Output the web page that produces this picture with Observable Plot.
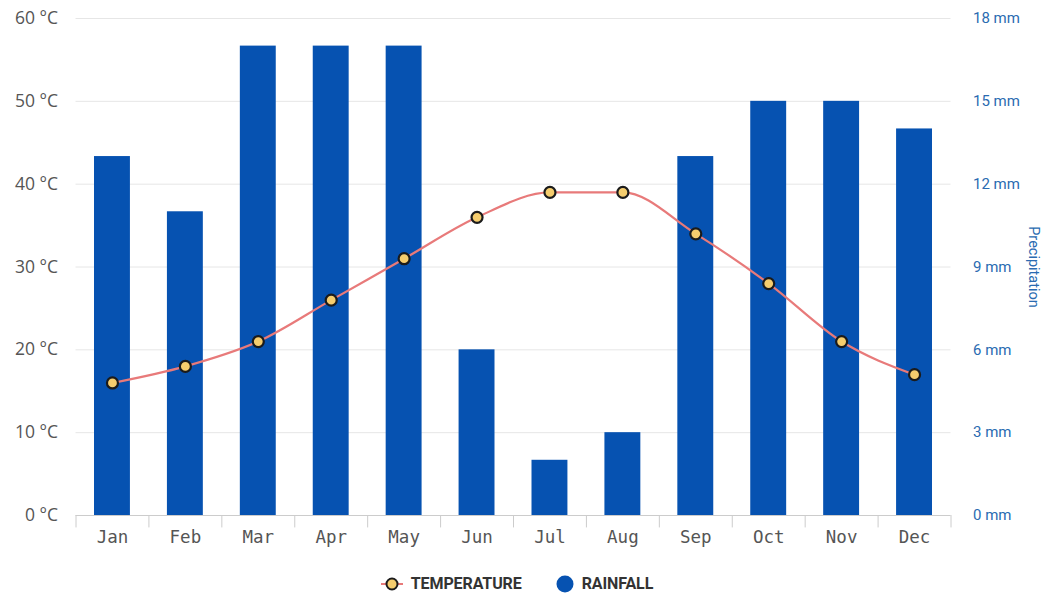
<!DOCTYPE html>
<html>
<head>
<meta charset="utf-8">
<script src="https://cdn.jsdelivr.net/npm/d3@7"></script>
<script src="https://cdn.jsdelivr.net/npm/@observablehq/plot@0.6"></script>
<style>
  html, body { margin: 0; padding: 0; background: #fff; }
  #chart { width: 1044px; position: relative; }
  #legend { display: flex; justify-content: center; align-items: center; gap: 34px;
    font-family: Roboto, "Liberation Sans", sans-serif; font-weight: 700; font-size: 16px; color: #333;
    margin-top: 8px; width: 1034px; letter-spacing: -0.1px; }
  .item { display: flex; align-items: center; gap: 8px; }
</style>
</head>
<body>
<div id="chart"></div>
<div id="legend">
  <div class="item"><svg width="22" height="16"><line x1="0" y1="8" x2="22" y2="8" stroke="#e87a7a" stroke-width="2"/><circle cx="11" cy="8" r="5.5" fill="#f5cd6e" stroke="#1b1b1b" stroke-width="2"/></svg><span>TEMPERATURE</span></div>
  <div class="item"><svg width="18" height="18"><circle cx="9" cy="9" r="8.5" fill="#0652b1"/></svg><span>RAINFALL</span></div>
</div>
<script>
const months = ["Jan","Feb","Mar","Apr","May","Jun","Jul","Aug","Sep","Oct","Nov","Dec"];
const temperature = [16, 18, 21, 26, 31, 36, 39, 39, 34, 28, 21, 17];
const rainfall = [13, 11, 17, 17, 17, 6, 2, 3, 13, 15, 15, 14];
const tempTicks = [0, 10, 20, 30, 40, 50, 60];
const rainTicks = [0, 3, 6, 9, 12, 15, 18];

const k = 60 / 18; // rainfall -> temperature scale
const data = months.map((m, i) => ({month: m, temp: temperature[i], rain: rainfall[i]}));

const W = 1044, mL = 75.5, mR = 93.5;
const step = (W - mL - mR) / months.length;

const chart = Plot.plot({
  width: W,
  height: 566,
  marginLeft: mL,
  marginRight: mR,
  marginTop: 18,
  marginBottom: 51,
  style: {background: "#fff", overflow: "visible"},
  x: {domain: months, padding: 0, type: "band", round: false},
  y: {domain: [0, 60]},
  marks: [
    Plot.ruleY(tempTicks.slice(1), {stroke: "#e6e6e6", strokeWidth: 1}),
    Plot.axisY(tempTicks, {anchor: "left", tickSize: 0, tickPadding: 18, label: null,
      tickFormat: d => `${d} °C`, fontSize: 17.5, fill: "#555",
      fontFamily: "'Open Sans', 'Noto Sans', sans-serif"}),
    Plot.axisY(rainTicks.map(d => d * k), {anchor: "right", tickSize: 0, tickPadding: 22, label: null,
      tickFormat: d => `${Math.round(d / k)} mm`, fontSize: 15, fill: "#2a6bb1",
      fontFamily: "Roboto, 'Noto Sans', sans-serif"}),
    Plot.text(["Precipitation"], {frameAnchor: "right", textAnchor: "middle", dx: 83, rotate: 90, fontSize: 14.5,
      fill: "#2a6bb1", fontFamily: "Roboto, 'Noto Sans', sans-serif"}),
    Plot.barY(data, {x: "month", y: d => d.rain * k, fill: "#0652b1", insetLeft: 18.5, insetRight: 18.5}),
    Plot.ruleY([0], {stroke: "#ccc", strokeWidth: 1}),
    Plot.ruleX(months, {x: d => d, dx: -step / 2, y1: 0, y2: -1.5, stroke: "#ccc"}),
    Plot.ruleX(["Dec"], {x: d => d, dx: step / 2, y1: 0, y2: -1.5, stroke: "#ccc"}),
    Plot.axisX({tickSize: 0, tickPadding: 15, label: null, fontSize: 17.5, fill: "#555",
      fontFamily: "'DejaVu Sans Mono', monospace"}),
    Plot.line(data, {x: "month", y: "temp", stroke: "#e87a7a", strokeWidth: 2.2, curve: "monotone-x"}),
    Plot.dot(data, {x: "month", y: "temp", r: 5.5, fill: "#f5cd6e", stroke: "#1b1b1b", strokeWidth: 2.2})
  ]
});
document.getElementById("chart").appendChild(chart);
</script>
</body>
</html>
